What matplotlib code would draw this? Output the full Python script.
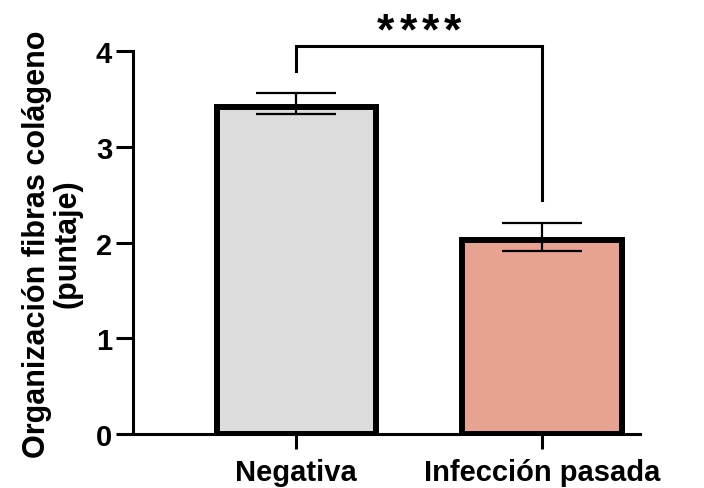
import matplotlib.pyplot as plt
import numpy as np

categories = ['Negativa', 'Infección pasada']
means = [3.45, 2.06]
sems = [0.11, 0.15]
colors = ['#dcdcdc', '#e8a292']
signif = '****'

plt.rcParams['font.family'] = ['Liberation Sans', 'DejaVu Sans']
plt.rcParams['font.weight'] = 'bold'

fig = plt.figure(figsize=(7.04, 4.89), dpi=100)
ax_rect = [0.189, 0.110, 0.72, 0.783]
ax = fig.add_axes(ax_rect)

# borde de barra dibujado "hacia dentro" como en GraphPad
edge_lw = 4.3
half_edge = edge_lw * 100 / 72 / 2 * 4 / (ax_rect[3] * 489)
heights = [m - half_edge for m in means]

x = np.arange(len(categories))
ax.bar(x, heights, width=0.65, color=colors, edgecolor='black', linewidth=edge_lw, zorder=2)
ax.errorbar(x, means, yerr=sems, fmt='none', ecolor='black', elinewidth=1.6,
            capsize=29, capthick=1.6, zorder=3)

# bracket de significancia
ax.plot([0, 0, 1, 1], [3.79, 4.06, 4.06, 2.45], color='black', lw=2.2,
        clip_on=False, solid_joinstyle='miter')
n = len(signif)
pitch = 0.09
for i, ch in enumerate(signif):
    ax.text(0.5 + (i - (n - 1) / 2) * pitch, 4.085, ch, ha='center', va='baseline',
            fontsize=32, fontweight='bold')

ax.set_xlim(-0.665, 1.40)
ax.set_ylim(0, 4)
ax.set_yticks([0, 1, 2, 3, 4])
ax.set_xticks(x)
ax.set_xticklabels(categories, fontsize=21, fontweight='bold')
ax.tick_params(axis='y', labelsize=21, width=2.2, length=12, pad=3)
ax.tick_params(axis='x', width=2.2, length=11, pad=6)
ax.set_ylabel('Organización fibras colágeno\n(puntaje)', fontsize=22, fontweight='bold',
              labelpad=10, linespacing=1.0)

for s in ['top', 'right']:
    ax.spines[s].set_visible(False)
for s in ['left', 'bottom']:
    ax.spines[s].set_linewidth(2.2)

fig.savefig('out.png', dpi=100)
